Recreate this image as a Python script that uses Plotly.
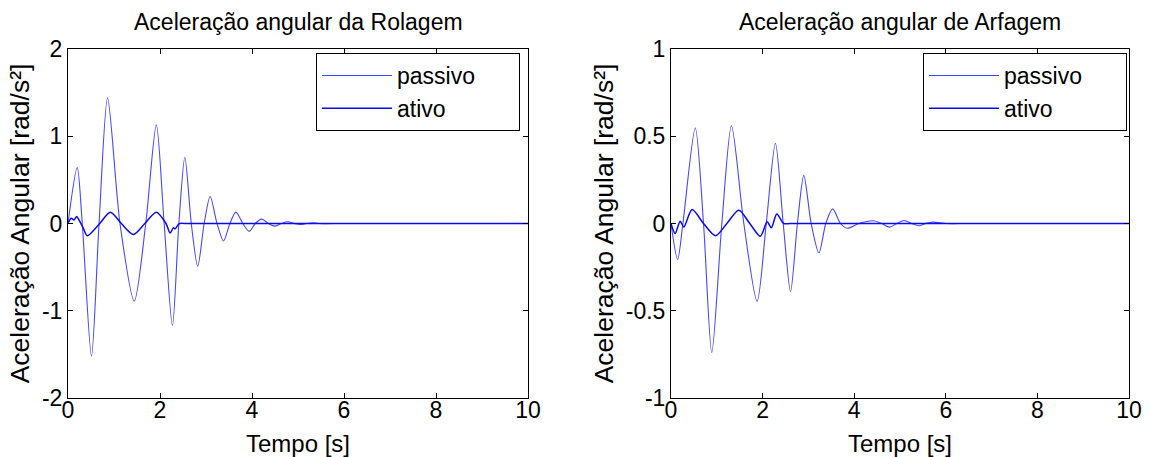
import plotly.graph_objects as go

# ---------------- data ----------------
roll_passive_t = [0, 0.20, 0.31, 0.51, 0.675, 0.86, 1.13, 1.44, 1.69, 1.92, 2.09, 2.27, 2.41, 2.54,
                  2.68, 2.82, 2.96, 3.09, 3.24, 3.38, 3.52, 3.65, 3.80, 3.94, 4.07, 4.21, 4.36,
                  4.50, 4.64, 4.78, 4.92, 5.05, 5.19, 5.33, 5.45, 6.0, 10]
roll_passive_y = [0, 0.64, 0.0, -1.52, 0.0, 1.44, 0.0, -0.89, 0.0, 1.13, 0.0, -1.17, 0.0, 0.76,
                  0.0, -0.49, 0.0, 0.31, 0.0, -0.20, 0.0, 0.13, 0.0, -0.09, 0.0, 0.05, 0.0,
                  -0.03, 0.0, 0.02, 0.0, -0.01, 0.0, 0.008, 0.0, 0.0, 0.0]

roll_active_t = [0, 0.07, 0.13, 0.19, 0.25, 0.33, 0.42, 0.69, 0.92, 1.16, 1.42, 1.67, 1.92,
                 2.13, 2.22, 2.29, 2.33, 2.40, 2.43, 2.6, 3.0, 10]
roll_active_y = [0, 0.06, 0.04, 0.08, 0.03, -0.05, -0.14, 0.0, 0.13, 0.0, -0.126, 0.0, 0.13,
                 0.0, -0.11, -0.05, -0.06, -0.01, 0.0, 0.0, 0.0, 0.0]

pitch_passive_t = [0, 0.145, 0.26, 0.53, 0.71, 0.89, 1.11, 1.32, 1.59, 1.88, 2.08, 2.28, 2.45,
                   2.61, 2.76, 2.90, 3.06, 3.23, 3.38, 3.53, 3.70, 3.85, 4.10, 4.42, 4.60,
                   4.77, 4.93, 5.09, 5.25, 5.41, 5.56, 5.71, 6.02, 6.5, 10]
pitch_passive_y = [0, -0.206, 0.0, 0.547, 0.0, -0.739, 0.0, 0.56, 0.0, -0.446, 0.0, 0.46, 0.0,
                   -0.39, 0.0, 0.276, 0.0, -0.168, 0.0, 0.084, 0.0, -0.027, 0.0, 0.016, 0.0,
                   -0.021, 0.0, 0.017, 0.0, -0.013, 0.0, 0.008, 0.0, 0.0, 0.0]

pitch_active_t = [0, 0.09, 0.20, 0.28, 0.46, 0.71, 0.97, 1.22, 1.48, 1.72, 1.95, 2.10, 2.19,
                  2.31, 2.46, 2.6, 3.0, 10]
pitch_active_y = [0, -0.057, 0.013, -0.02, 0.08, 0.0, -0.07, 0.0, 0.076, 0.0, -0.073, 0.01,
                  -0.025, 0.055, 0.0, 0.0, 0.0, 0.0]

x_ticks = [0, 2, 4, 6, 8, 10]
x_ticktext = ["0", "2", "4", "6", "8", "10"]
roll_yticks = [-2, -1, 0, 1, 2]
roll_yticktext = ["-2", "-1", "0", "1", "2"]
pitch_yticks = [-1, -0.5, 0, 0.5, 1]
pitch_yticktext = ["-1", "-0.5", "0", "0.5", "1"]

series_names = ["passivo", "ativo"]
titles = ["Aceleração angular da Rolagem", "Aceleração angular de Arfagem"]
x_title = "Tempo [s]"
y_title = "Aceleração Angular [rad/s²]"

# ---------------- style ----------------
FONT = "Liberation Sans, Arial, sans-serif"
FS = 23
W, H = 1149, 457
C_PASSIVE = "rgb(70,70,255)"
C_ACTIVE = "rgb(10,10,240)"
PAD = "\u00a0" * 6

fig = go.Figure()

def add_pair(tp, yp, ta, ya, xa, ya_name, legend):
    fig.add_trace(go.Scatter(x=tp, y=yp, mode="lines", name=series_names[0] + PAD,
                             line=dict(color=C_PASSIVE, width=1.1, shape="spline", smoothing=0.8),
                             xaxis=xa, yaxis=ya_name, legend=legend))
    fig.add_trace(go.Scatter(x=ta, y=ya, mode="lines", name=series_names[1],
                             line=dict(color=C_ACTIVE, width=1.5, shape="spline", smoothing=0.8),
                             xaxis=xa, yaxis=ya_name, legend=legend))

add_pair(roll_passive_t, roll_passive_y, roll_active_t, roll_active_y, "x", "y", "legend")
add_pair(pitch_passive_t, pitch_passive_y, pitch_active_t, pitch_active_y, "x2", "y2", "legend2")

px2x = lambda p: p / W
px2y = lambda p: 1 - p / H

dom_y = [px2y(398), px2y(49)]
axis_common = dict(showline=True, linecolor="black", linewidth=1, mirror="ticks",
                   ticks="inside", ticklen=5, tickcolor="black", showgrid=False,
                   zeroline=False, automargin=False,
                   tickfont=dict(family=FONT, size=FS, color="black"))
xtitle = dict(text=x_title, standoff=14, font=dict(family=FONT, size=24, color="black"))
ytitle = dict(text=y_title, standoff=4, font=dict(family=FONT, size=26.5, color="black"))

fig.update_layout(
    width=W, height=H,
    margin=dict(l=0, r=0, t=0, b=0),
    paper_bgcolor="white", plot_bgcolor="white",
    font=dict(family=FONT, size=FS, color="black"),
    xaxis=dict(domain=[px2x(68), px2x(528)], range=[0, 10], tickvals=x_ticks, ticktext=x_ticktext,
               anchor="y", title=xtitle, ticklabelstandoff=-9, **axis_common),
    yaxis=dict(domain=dom_y, range=[-2, 2], tickvals=roll_yticks, ticktext=roll_yticktext,
               anchor="x", title=ytitle, **axis_common),
    xaxis2=dict(domain=[px2x(671), px2x(1129)], range=[0, 10], tickvals=x_ticks, ticktext=x_ticktext,
                anchor="y2", title=xtitle, ticklabelstandoff=-9, **axis_common),
    yaxis2=dict(domain=dom_y, range=[-1, 1], tickvals=pitch_yticks, ticktext=pitch_yticktext,
                anchor="x2", title=ytitle, **axis_common),
    legend=dict(x=px2x(316), y=px2y(53), xanchor="left", yanchor="top",
                bordercolor="black", borderwidth=1, bgcolor="white",
                font=dict(family=FONT, size=FS, color="black"), itemwidth=70,
                tracegroupgap=0),
    legend2=dict(x=px2x(923), y=px2y(53), xanchor="left", yanchor="top",
                 bordercolor="black", borderwidth=1, bgcolor="white",
                 font=dict(family=FONT, size=FS, color="black"), itemwidth=70,
                 tracegroupgap=0),
    showlegend=True,
)

for i, (xc, t) in enumerate(zip([(68 + 528) / 2, (671 + 1129) / 2], titles)):
    fig.add_annotation(text=t, x=px2x(xc), y=px2y(22), xref="paper", yref="paper",
                       xanchor="center", yanchor="middle", showarrow=False,
                       font=dict(family=FONT, size=FS, color="black"))

fig.write_html("out.html")
